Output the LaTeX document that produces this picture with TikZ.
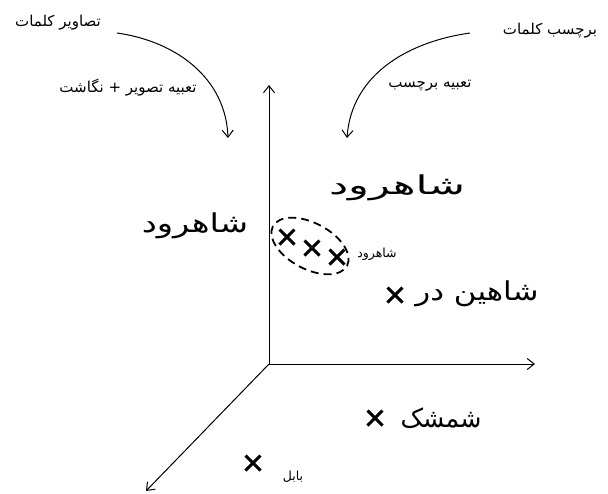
\documentclass[tikz,border=0pt]{standalone}
\usepackage{fontspec}
\usetikzlibrary{positioning,arrows.meta,shapes.misc}
\TeXXeTstate=1
\newfontfamily\arabicfont[Script=Arabic]{DejaVu Sans}
\newcommand{\fa}[1]{\arabicfont\beginR #1\endR}

\begin{document}
\begin{tikzpicture}[x=1pt,y=-1pt, >={Straight Barb[length=7pt,width=11pt]}, line width=1pt,
  lbl/.style={font=\arabicfont\fontsize{15}{17}\selectfont, inner sep=0pt},
  hand/.style={font=\arabicfont\fontsize{26}{30}\selectfont, inner sep=0pt},
  smalllbl/.style={font=\arabicfont\fontsize{12.5}{14}\selectfont, inner sep=0pt},
  xmark/.style={draw, cross out, line width=3pt, minimum size=12pt, inner sep=0pt}]
  \useasboundingbox (0,0) rectangle (608,493);
  % axes
  \coordinate (O) at (269,364);
  \coordinate (ytop) at (269,85);
  \coordinate (xend) at (535,364);
  \coordinate (zend) at (146,491);
  \draw[->] (O) -- (ytop);
  \draw[->] (O) -- (xend);
  \draw[->] (O) -- (zend);
  % labels at the top
  \node[lbl] (imgw) at (58,23) {\fa{تصاویر کلمات}};
  \node[lbl] (imgemb) at (128,88) {\fa{تعبیه تصویر + نگاشت}};
  \node[lbl] (tagw) at (550,31) {\fa{برچسب کلمات}};
  \node[lbl] (tagemb) at (430,86) {\fa{تعبیه برچسب}};
  \coordinate (a1) at (117,33);
  \coordinate (a2) at (228,138);
  \coordinate (b1) at (470,33);
  \coordinate (b2) at (347,138);
  \draw[->] (a1) to[out=-8,in=92] (a2);
  \draw[->] (b1) to[out=188,in=86] (b2);
  % words
  \node[hand, xscale=1.66] (shtop) at (397,188) {\fa{شاهرود}};
  \node[hand, xscale=1.3] (shleft) at (195,226) {\fa{شاهرود}};
  \node[hand, xscale=1.19] (shdar) at (477,294) {\fa{شاهین در}};
  \node[hand, xscale=0.97] (shm) at (441,418) {\fa{شمشک}};
  % points
  \node[xmark] (p1) at (287,237) {};
  \node[xmark] (p2) at (312,248) {};
  \node[xmark] (p3) at (337,257) {};
  \draw[line width=1.8pt, dash pattern=on 8pt off 5pt, rotate around={-28:(310,246)}]
    (310,246) ellipse [x radius=42pt, y radius=23pt];
  \node[smalllbl] (shsmall) at (377,254) {\fa{شاهرود}};
  \node[xmark] (p4) at (395,295) {};
  \node[xmark] (p5) at (375,418) {};
  \node[xmark] (p6) at (253,463) {};
  \node[smalllbl] (babol) at (293,477) {\fa{بابل}};
\end{tikzpicture}
\end{document}
